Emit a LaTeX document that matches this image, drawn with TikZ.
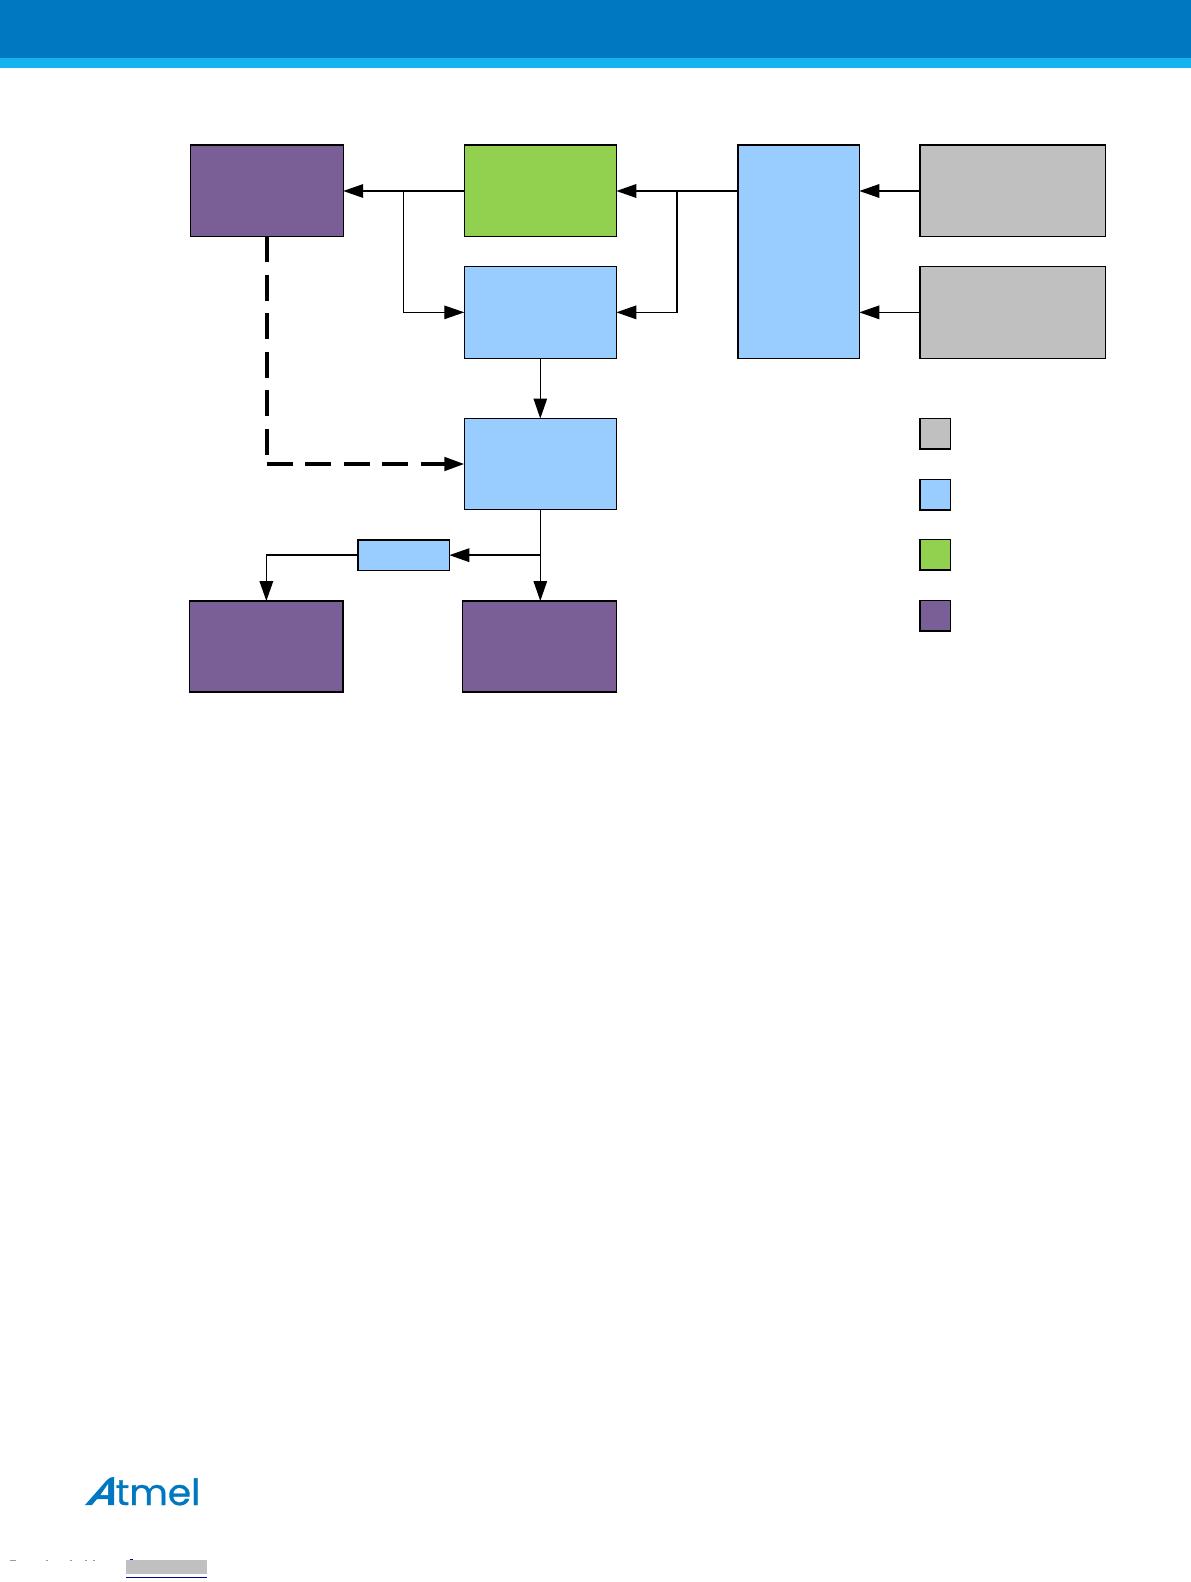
\documentclass[tikz,border=0pt]{standalone}
\usepackage{fontspec}
\setmainfont{Poppins}
\newfontfamily\logofont[FakeBold=0.9,FakeStretch=1.04]{Poppins}
\usetikzlibrary{arrows.meta}
\definecolor{hdrblue}{HTML}{0078C1}
\definecolor{hdrcyan}{HTML}{14B4EE}
\definecolor{boxpurple}{HTML}{7A5F96}
\definecolor{boxgreen}{HTML}{92D050}
\definecolor{boxblue}{HTML}{99CCFF}
\definecolor{boxgrey}{HTML}{C0C0C0}
\definecolor{linkblue}{HTML}{0000A0}
\definecolor{speck}{HTML}{9A9A9A}
\tikzset{
  x=1pt,y=-1pt,
  blockbox/.style={draw=black,line width=1.4pt,anchor=north west,inner sep=0pt,outer sep=0pt},
  conn/.style={draw=black,line width=1.7pt,-{Triangle[length=20pt,width=13.5pt]}},
  thinconn/.style={conn,line width=1.3pt},
  dashline/.style={draw=black,line width=3.3pt,dash pattern=on 26pt off 12.5pt},
}
\begin{document}
\begin{tikzpicture}
\useasboundingbox (0,0) rectangle (1191,1582);
\fill[white] (0,0) rectangle (1191,1582);
\fill[hdrblue] (0,0) rectangle (1191,58);
\fill[hdrcyan] (0,58) rectangle (1191,68);
% blocks
\node[blockbox,fill=boxpurple,minimum width=152.5pt,minimum height=91.3pt] (pt) at (190.7,145) {};
\node[blockbox,fill=boxgreen,minimum width=152pt,minimum height=91.3pt] (gr) at (464.3,145) {};
\node[blockbox,fill=boxblue,minimum width=152pt,minimum height=91.7pt] (b2) at (464.3,266.5) {};
\node[blockbox,fill=boxblue,minimum width=152pt,minimum height=91pt] (b3) at (464.3,418.5) {};
\node[blockbox,fill=boxblue,minimum width=91.3pt,minimum height=30.3pt] (sm) at (358,540) {};
\node[blockbox,fill=boxpurple,minimum width=153.3pt,minimum height=91pt] (pl) at (189.7,601) {};
\node[blockbox,fill=boxpurple,minimum width=153.6pt,minimum height=91pt] (pr) at (462.7,601) {};
\node[blockbox,fill=boxblue,minimum width=121.3pt,minimum height=213.3pt] (big) at (738,145) {};
\node[blockbox,fill=boxgrey,minimum width=185.3pt,minimum height=91.3pt] (g1) at (920,145) {};
\node[blockbox,fill=boxgrey,minimum width=185.3pt,minimum height=91.7pt] (g2) at (920,266.5) {};
% legend
\node[blockbox,fill=boxgrey,minimum width=30.6pt,minimum height=30.3pt] (lg) at (920,418.7) {};
\node[blockbox,fill=boxblue,minimum width=30.6pt,minimum height=30.3pt] (lb) at (920,479.7) {};
\node[blockbox,fill=boxgreen,minimum width=30.6pt,minimum height=30.3pt] (lv) at (920,539.7) {};
\node[blockbox,fill=boxpurple,minimum width=30.6pt,minimum height=30.3pt] (lp) at (920,600.7) {};
% junctions
\coordinate (jl) at (403.3,191);
\coordinate (jr) at (676.7,191);
\coordinate (jd) at (b3.south |- sm.east);
\coordinate (bigy1) at (738,191);
\coordinate (dc) at (pt.south |- b3.west);
% connectors
\draw[conn] (g1.west |- jr) -- (big.east |- jr);
\draw[conn] (g2.west) -- (big.east |- g2.west);
\draw[conn] (bigy1) -- (gr.east |- jr);
\draw[conn] (jr) -- (jr |- b2.east) -- (b2.east);
\draw[conn] (gr.west |- jl) -- (pt.east |- jl);
\draw[thinconn] (jl) -- (jl |- b2.west) -- (b2.west);
\draw[thinconn] (b2.south) -- (b3.north);
\draw[thinconn] (b3.south) -- (pr.north -| b3.south);
\draw[conn] (jd) -- (sm.east);
\draw[conn] (sm.west) -- (pl.north |- sm.west) -- (pl.north);
\draw[dashline] (pt.south) -- (dc);
\draw[dashline,-{Triangle[length=20pt,width=13.5pt]}] (dc) -- (b3.west);
% logo
\fill[hdrblue] (85,1505) -- (107,1480) .. controls (109.5,1477.5) and (111,1477) .. (114,1477) -- (114,1505) -- (108,1505) -- (108,1499) -- (97,1499) -- (92,1505) -- cycle;
\fill[white] (108,1484) -- (100.5,1495) -- (108,1495) -- cycle;
\node[anchor=base west,inner sep=0pt,text=hdrblue,font=\logofont\fontsize{36}{36}\selectfont] (logo) at (115.5,1505) {tmel};
% footer
\fill[speck] (10,1559.5) rectangle (16,1561);
\fill[speck] (46,1560) rectangle (48,1561);
\fill[speck] (70,1560) rectangle (72,1561);
\fill[speck] (85,1560) rectangle (87,1561);
\fill[speck] (93,1560) rectangle (95,1561);
\fill[linkblue] (130,1559) rectangle (133,1560);
\fill[boxgrey] (126,1560) rectangle (207,1574);
\draw[linkblue,line width=1pt] (126,1577) -- (207,1577);
\end{tikzpicture}
\end{document}
